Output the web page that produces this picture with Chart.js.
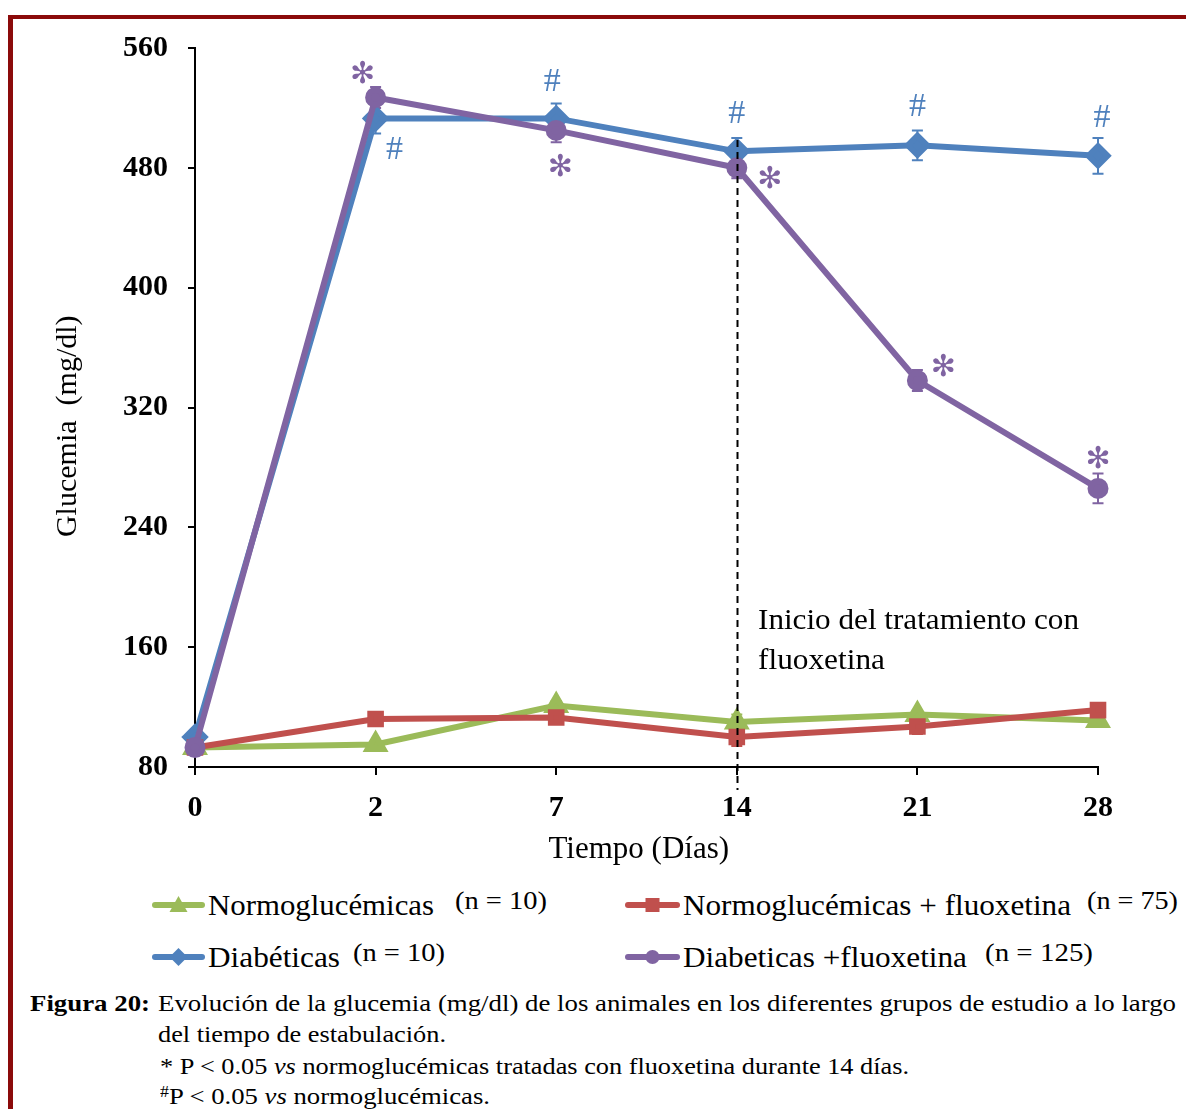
<!DOCTYPE html>
<html><head><meta charset="utf-8">
<script src="https://cdn.jsdelivr.net/npm/chart.js@4.4.1/dist/chart.umd.min.js"></script>
<style>
html,body{margin:0;padding:0;}
body{width:1186px;height:1109px;overflow:hidden;background:#fff;position:relative;font-family:"Liberation Serif","Times New Roman",serif;color:#000;}
#frame{position:absolute;left:8px;top:15px;width:1300px;height:1300px;border-top:4px solid #8B0A0A;border-left:5px solid #8B0A0A;box-sizing:border-box;}
#wrap{position:absolute;left:0;top:0;width:1186px;height:880px;}
.t{position:absolute;white-space:nowrap;transform-origin:0 50%;line-height:1;}
.mk{position:absolute;}
</style></head>
<body>
<div id="frame"></div>
<div id="wrap"><canvas id="c" width="1186" height="880"></canvas></div>
<div id="texts"></div>
<svg class="mk" style="left:0;top:0" width="1186" height="1109" id="legsvg"></svg>
<script>
// ---------- data ----------
const categories = ['0', '2', '7', '14', '21', '28'];
const yTicks = [80, 160, 240, 320, 400, 480, 560];
const normo = [93, 95, 121, 110, 115, 111];
const normoErr = [2, 2, 3, 5, 3, 3];
const normoFluox = [93, 112, 113, 100, 107, 118];
const normoFluoxErr = [2, 3, 4, 6, 5, 4];
const diab = [100, 513, 513, 491, 495, 488];
const diabErr = [3, 10, 10, 9, 10, 12];
const diabFluox = [93, 527, 505, 480, 338, 266];
const diabFluoxErr = [3, 7, 8, 7, 7, 10];
const diabMarks = ['', '#', '#', '#', '#', '#'];
const diabFluoxMarks = ['', '*', '*', '*', '*', '*'];
const seriesNames = ['Normoglucémicas', 'Normoglucémicas + fluoxetina', 'Diabéticas', 'Diabeticas +fluoxetina'];
const seriesN = ['(n = 10)', '(n = 75)', '(n = 10)', '(n = 125)'];
const treatmentStart = '14';
const xTitle = 'Tiempo (Días)';
const yTitle = 'Glucemia  (mg/dl)';

// ---------- styles ----------
const GREEN = '#9BBB59', RED = '#C0504D', BLUE = '#4F81BD', PURPLE = '#8064A2';
const SERIF = '"Liberation Serif","Times New Roman",serif';

const errs = [normoErr, normoFluoxErr, diabErr, diabFluoxErr];

// offsets (px) for significance marks relative to points
const diabMarkOff = [null, [19, 32], [-4, -36], [0, -37], [0, -38], [4, -38]];
const diabFluoxMarkOff = [null, [-13, -22], [4, 38], [33, 12], [26, -12], [0, -28]];

const overlay = {
  id: 'overlay',
  beforeDatasetsDraw(chart) {
    const ctx = chart.ctx;
    ctx.save();
    chart.data.datasets.forEach((ds, di) => {
      const meta = chart.getDatasetMeta(di);
      const ys = chart.scales.y;
      ctx.strokeStyle = ds.borderColor;
      ctx.lineWidth = 2;
      meta.data.forEach((pt, i) => {
        const e = errs[di][i];
        if (!e) return;
        const v = ds.data[i];
        const y1 = ys.getPixelForValue(v + e), y2 = ys.getPixelForValue(v - e);
        const x = pt.x, h = 5.5;
        ctx.beginPath();
        ctx.moveTo(x, y1); ctx.lineTo(x, y2);
        ctx.moveTo(x - h, y1); ctx.lineTo(x + h, y1);
        ctx.moveTo(x - h, y2); ctx.lineTo(x + h, y2);
        ctx.stroke();
      });
    });
    ctx.restore();
  },
  afterDatasetsDraw(chart) {
    const ctx = chart.ctx;
    const xs = chart.scales.x, ys = chart.scales.y;
    ctx.save();
    // dashed treatment line
    const idx = categories.indexOf(treatmentStart);
    const x = Math.round(xs.getPixelForValue(idx)) + 0.5;
    const yTop = ys.getPixelForValue(diab[idx] + diabErr[idx]) + 2;
    ctx.strokeStyle = '#000';
    ctx.lineWidth = 2;
    ctx.setLineDash([7, 5]);
    ctx.beginPath();
    ctx.moveTo(x, yTop);
    ctx.lineTo(x, chart.chartArea.bottom + 23);
    ctx.stroke();
    ctx.setLineDash([]);
    // significance marks
    ctx.textAlign = 'center';
    ctx.textBaseline = 'middle';
    const m2 = chart.getDatasetMeta(2), m3 = chart.getDatasetMeta(3);
    diabMarks.forEach((s, i) => {
      if (!s) return;
      const p = m2.data[i];
      ctx.fillStyle = BLUE;
      ctx.font = '34px ' + SERIF;
      ctx.fillText(s, p.x + diabMarkOff[i][0], p.y + diabMarkOff[i][1]);
    });
    diabFluoxMarks.forEach((s, i) => {
      if (!s) return;
      const p = m3.data[i];
      ctx.fillStyle = PURPLE;
      ctx.font = 'bold 30px "DejaVu Sans"';
      ctx.fillText('\u273B', p.x + diabFluoxMarkOff[i][0], p.y + diabFluoxMarkOff[i][1]);
    });
    ctx.restore();
  }
};

const mkDs = (label, data, color, style, radius, order, bw) => ({
  label, data, borderColor: color, backgroundColor: color, pointBackgroundColor: color,
  pointBorderColor: color, pointStyle: style, pointRadius: radius, pointHoverRadius: radius,
  borderWidth: bw, tension: 0, clip: false, order
});

new Chart(document.getElementById('c'), {
  type: 'line',
  data: {
    labels: categories,
    datasets: [
      mkDs(seriesNames[0], normo, GREEN, 'triangle', 9, 3, 6),
      mkDs(seriesNames[1], normoFluox, RED, 'rect', 7.5, 1, 6),
      mkDs(seriesNames[2], diab, BLUE, 'rectRot', 9.5, 2, 6),
      mkDs(seriesNames[3], diabFluox, PURPLE, 'circle', 7.5, 0, 6)
    ]
  },
  options: {
    responsive: false,
    animation: false,
    events: [],
    layout: { padding: { left: 0, top: 48, right: 88, bottom: 0 } },
    plugins: { legend: { display: false }, tooltip: { enabled: false } },
    scales: {
      x: {
        type: 'category', offset: false,
        grid: { display: true, drawOnChartArea: false, drawTicks: true, tickLength: 8, color: '#000', lineWidth: 2 },
        border: { display: true, color: '#000', width: 2 },
        ticks: { color: '#000', font: { family: SERIF, size: 30, weight: 'bold' }, padding: 15, maxRotation: 0, autoSkip: false },
        title: { display: true, text: xTitle + '  ', color: '#000', font: { family: SERIF, size: 31 }, padding: { top: 0, bottom: 12 } },
        afterFit: s => { s.height = 113; }
      },
      y: {
        min: yTicks[0], max: yTicks[yTicks.length - 1],
        afterBuildTicks: s => { s.ticks = yTicks.map(v => ({ value: v })); },
        grid: { display: true, drawOnChartArea: false, drawTicks: true, tickLength: 7, color: '#000', lineWidth: 2 },
        border: { display: true, color: '#000', width: 2 },
        ticks: { color: '#000', font: { family: SERIF, size: 30, weight: 'bold' }, padding: 20 },
        title: { display: true, text: yTitle + '     ', color: '#000', font: { family: SERIF, size: 30 }, padding: { top: 50, bottom: 0 } },
        afterFit: s => { s.width = 195; }
      }
    }
  },
  plugins: [overlay]
});

// ---------- HTML texts (fit to widths) ----------
const texts = [
  { html: 'Inicio del tratamiento con', x: 758, y: 619, w: 321, size: 30 },
  { html: 'fluoxetina', x: 758, y: 659, w: 127, size: 30 },
  { html: seriesNames[0], x: 208, y: 905, w: 226, size: 29 },
  { html: seriesN[0], x: 455, y: 901, w: 92, size: 26 },
  { html: seriesNames[1], x: 683, y: 905, w: 388, size: 29 },
  { html: seriesN[1], x: 1087, y: 901, w: 91, size: 26 },
  { html: seriesNames[2], x: 208, y: 957, w: 132, size: 29 },
  { html: seriesN[2], x: 353, y: 953, w: 92, size: 26 },
  { html: seriesNames[3], x: 683, y: 957, w: 284, size: 29 },
  { html: seriesN[3], x: 985, y: 953, w: 108, size: 26 },
  { html: '<b>Figura 20:</b>', x: 30, y: 1003, w: 120, size: 24 },
  { html: 'Evolución de la glucemia (mg/dl) de los animales en los diferentes grupos de estudio a lo largo', x: 158, y: 1003, w: 1018, size: 24 },
  { html: 'del tiempo de estabulación.', x: 158, y: 1034, w: 288, size: 24 },
  { html: '* P &lt; 0.05 <i>vs</i> normoglucémicas tratadas con fluoxetina durante 14 días.', x: 160, y: 1066, w: 749, size: 24 },
  { html: '<sup style="font-size:16px;vertical-align:7px">#</sup>P &lt; 0.05 <i>vs</i> normoglucémicas.', x: 160, y: 1096, w: 330, size: 24 }
];
const host = document.getElementById('texts');
texts.forEach(t => {
  const el = document.createElement('div');
  el.className = 't';
  el.innerHTML = t.html;
  el.style.fontSize = t.size + 'px';
  el.style.left = t.x + 'px';
  host.appendChild(el);
  const r = el.getBoundingClientRect();
  el.style.top = (t.y - r.height / 2) + 'px';
  el.style.transform = 'scaleX(' + (t.w / r.width) + ')';
});

// ---------- legend symbols ----------
const svg = document.getElementById('legsvg');
const NS = 'http://www.w3.org/2000/svg';
const legendItems = [
  { x1: 152, x2: 205, y: 905, color: GREEN, shape: 'tri' },
  { x1: 625, x2: 680, y: 905, color: RED, shape: 'sq' },
  { x1: 152, x2: 205, y: 957, color: BLUE, shape: 'dia' },
  { x1: 625, x2: 680, y: 957, color: PURPLE, shape: 'cir' }
];
legendItems.forEach(l => {
  const ln = document.createElementNS(NS, 'line');
  ln.setAttribute('x1', l.x1 + 3); ln.setAttribute('x2', l.x2 - 3);
  ln.setAttribute('y1', l.y); ln.setAttribute('y2', l.y);
  ln.setAttribute('stroke', l.color); ln.setAttribute('stroke-width', 6);
  ln.setAttribute('stroke-linecap', 'round');
  svg.appendChild(ln);
  const cx = (l.x1 + l.x2) / 2, cy = l.y;
  let m;
  if (l.shape === 'tri') {
    m = document.createElementNS(NS, 'polygon');
    m.setAttribute('points', `${cx},${cy - 9} ${cx + 9},${cy + 7} ${cx - 9},${cy + 7}`);
  } else if (l.shape === 'sq') {
    m = document.createElementNS(NS, 'rect');
    m.setAttribute('x', cx - 7); m.setAttribute('y', cy - 7);
    m.setAttribute('width', 14); m.setAttribute('height', 14);
  } else if (l.shape === 'dia') {
    m = document.createElementNS(NS, 'polygon');
    m.setAttribute('points', `${cx},${cy - 9} ${cx + 9},${cy} ${cx},${cy + 9} ${cx - 9},${cy}`);
  } else {
    m = document.createElementNS(NS, 'circle');
    m.setAttribute('cx', cx); m.setAttribute('cy', cy); m.setAttribute('r', 7);
  }
  m.setAttribute('fill', l.color);
  svg.appendChild(m);
});
</script>
</body></html>
